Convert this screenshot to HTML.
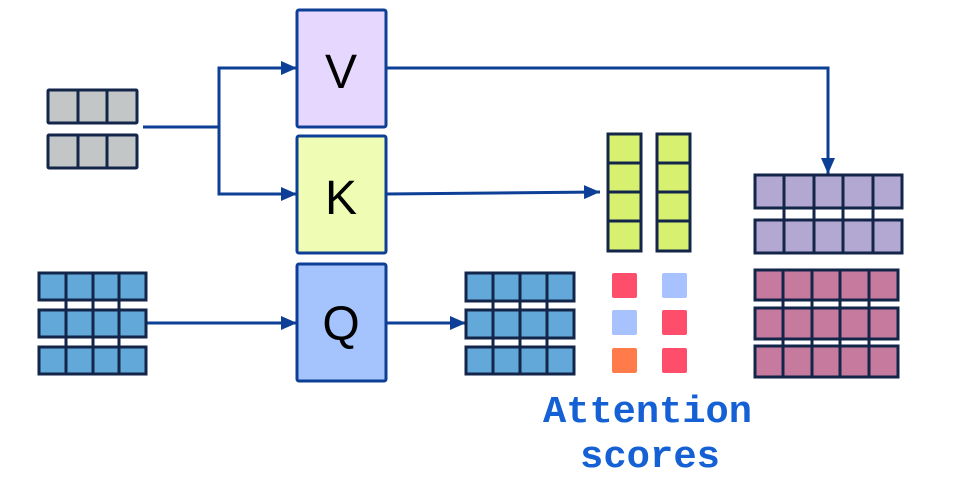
<!DOCTYPE html>
<html><head><meta charset="utf-8"><style>html,body{margin:0;padding:0;background:#fff}svg{display:block}</style></head>
<body>
<svg width="963" height="482" viewBox="0 0 963 482" xmlns="http://www.w3.org/2000/svg">
<defs>
<marker id="ar" markerWidth="10" markerHeight="10" refX="9" refY="5" orient="auto" markerUnits="userSpaceOnUse" viewBox="0 0 10 10">
<path d="M0,0 L10,5 L0,10 z" fill="#0d3f96"/></marker>
<marker id="ah" viewBox="0 0 16 16" refX="16" refY="8" markerWidth="16" markerHeight="16" orient="auto" markerUnits="userSpaceOnUse">
<path d="M0,1 L16,8 L0,15 z" fill="#0d3f96"/></marker>
</defs>
<g stroke="#0d3f96" stroke-width="3" fill="none">
<polyline points="143,127 219,127"/>
<polyline points="297,68 219,68 219,194 297,194"/>
<line x1="219" y1="68" x2="297" y2="68" marker-end="url(#ah)"/>
<line x1="219" y1="194" x2="297" y2="194" marker-end="url(#ah)"/>
<line x1="146" y1="323" x2="297" y2="323" marker-end="url(#ah)"/>
<polyline points="386,68 828,68 828,174" marker-end="url(#ah)"/>
<line x1="386" y1="194" x2="600" y2="192" marker-end="url(#ah)"/>
<line x1="386" y1="323" x2="466" y2="323" marker-end="url(#ah)"/>
</g>
<g stroke="#0d3f96" stroke-width="3">
<rect x="297" y="10" width="89" height="117" fill="#e5d7fd" rx="2"/>
<rect x="297" y="136" width="89" height="117" fill="#effcb4" rx="2"/>
<rect x="297" y="264" width="89" height="117" fill="#a5c3fc" rx="2"/>
</g>
<g font-family="Liberation Sans, sans-serif" font-size="48" text-anchor="middle" fill="#000">
<text x="341" y="88">V</text><text x="341" y="214">K</text><text x="341" y="340">Q</text>
</g>
<g stroke="#13264a" stroke-width="3">
<!-- gray -->
<rect x="48" y="90" width="89" height="33" fill="#c3c6c7" rx="1"/>
<rect x="48" y="135" width="89" height="33" fill="#c3c6c7" rx="1"/>
<line x1="78" y1="90" x2="78" y2="123"/><line x1="107" y1="90" x2="107" y2="123"/>
<line x1="78" y1="135" x2="78" y2="168"/><line x1="107" y1="135" x2="107" y2="168"/>
<!-- blue input -->
<g fill="#62a8d9">
<rect x="39" y="273" width="107" height="27"/><rect x="39" y="310" width="107" height="27"/><rect x="39" y="347" width="107" height="27"/>
<rect x="466" y="273" width="108" height="28"/><rect x="466" y="310" width="108" height="28"/><rect x="466" y="347" width="108" height="27"/>
</g>
<path d="M66,273V374M93,273V374M119,273V374M493,273V374M520,273V374M547,273V374"/>
<!-- yellow -->
<g fill="#d8f070">
<rect x="608" y="134" width="33" height="117"/><rect x="657" y="134" width="33" height="117"/>
</g>
<path d="M608,163H641M608,192H641M608,221H641M657,163H690M657,192H690M657,221H690"/>
<!-- purple -->
<g fill="#b3a8d2">
<rect x="755" y="175" width="147" height="33"/><rect x="755" y="220" width="147" height="33"/>
</g>
<path d="M784,175V253M814,175V253M843,175V253M873,175V253"/>
<!-- pink -->
<g fill="#c67b9e">
<rect x="755" y="270" width="143" height="30"/><rect x="755" y="308" width="143" height="31"/><rect x="755" y="346" width="143" height="31"/>
</g>
<path d="M783,270V377M812,270V377M840,270V377M869,270V377"/>
</g>
<g>
<rect x="612" y="273" width="25" height="25" rx="2" fill="#ff4e6c"/>
<rect x="662" y="273" width="25" height="25" rx="2" fill="#a7c2fe"/>
<rect x="612" y="310" width="25" height="25" rx="2" fill="#a7c2fe"/>
<rect x="662" y="310" width="25" height="25" rx="2" fill="#ff4e6c"/>
<rect x="612" y="348" width="25" height="25" rx="2" fill="#ff7b4a"/>
<rect x="662" y="348" width="25" height="25" rx="2" fill="#ff4e6c"/>
</g>
<g font-family="Liberation Mono, monospace" font-weight="bold" font-size="38" fill="#1560d4">
<text x="543" y="422" textLength="209" lengthAdjust="spacingAndGlyphs">Attention</text>
<text x="580" y="467" textLength="140" lengthAdjust="spacingAndGlyphs">scores</text>
</g>
</svg>
</body></html>
